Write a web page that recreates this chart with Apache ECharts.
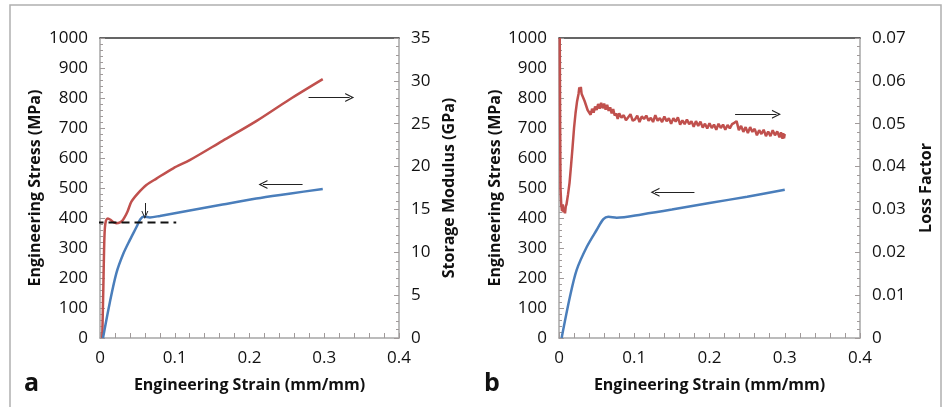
<!DOCTYPE html>
<html>
<head>
<meta charset="utf-8">
<script src="https://cdn.jsdelivr.net/npm/echarts@6/dist/echarts.min.js"></script>
<style>
  html, body { margin: 0; padding: 0; background: #fff; }
  #chart { width: 951px; height: 407px; }
</style>
</head>
<body>
<div id="chart"></div>
<script>
// panel a - stress (left axis)
var stressStrainA = [0.004, 0.013, 0.022, 0.031, 0.040, 0.049, 0.054, 0.059, 0.0667, 0.080, 0.120, 0.164, 0.209, 0.253, 0.298];
var stressA = [0, 117, 217, 280, 327, 371, 396, 405, 402, 407, 425, 445, 465, 481, 497];
// panel a - storage modulus (right axis, GPa)
var modStrain = [0.003, 0.0045, 0.0055, 0.0065, 0.008, 0.0105, 0.014, 0.018, 0.022, 0.026, 0.030, 0.033, 0.037, 0.042, 0.051, 0.062, 0.0755, 0.098, 0.120, 0.164, 0.209, 0.253, 0.298];
var modulus = [0, 6, 10.5, 12.8, 13.7, 13.95, 13.8, 13.5, 13.4, 13.45, 13.7, 14.1, 14.8, 15.9, 16.9, 17.85, 18.6, 19.8, 20.75, 23.0, 25.3, 27.8, 30.2];
// dashed yield line (MPa)
var yieldStrain = [-0.006, 0.102];
var yieldStress = [385, 385];

// panel b - stress (left axis)
var stressStrainB = [0.0035, 0.0146, 0.0235, 0.037, 0.050, 0.059, 0.0655, 0.0767, 0.110, 0.150, 0.200, 0.250, 0.300];
var stressB = [0, 138, 227, 304, 360, 396, 404, 401, 412, 428, 450, 471, 494];
// panel b - loss factor (right axis)
var lossStrain = [0.001, 0.0015, 0.002, 0.003, 0.004, 0.005, 0.006, 0.007, 0.008, 0.009, 0.010, 0.012, 0.014, 0.016, 0.018, 0.020, 0.022, 0.024, 0.026, 0.027, 0.028, 0.029, 0.030,
  0.032, 0.034, 0.036, 0.038, 0.040, 0.042, 0.044, 0.046, 0.048, 0.050, 0.052, 0.054, 0.056, 0.058, 0.060, 0.062, 0.064, 0.066, 0.068, 0.070,
  0.072, 0.074, 0.076, 0.078, 0.080, 0.083, 0.086, 0.089, 0.092, 0.095, 0.098, 0.101, 0.104, 0.107, 0.110, 0.113, 0.116, 0.119, 0.122, 0.125,
  0.128, 0.131, 0.134, 0.137, 0.140, 0.143, 0.146, 0.149, 0.152, 0.155, 0.158, 0.161, 0.164, 0.167, 0.170, 0.173, 0.176, 0.179, 0.182, 0.185,
  0.188, 0.191, 0.194, 0.197, 0.200, 0.203, 0.206, 0.209, 0.212, 0.215, 0.218, 0.221, 0.224, 0.227, 0.230, 0.233, 0.236, 0.239, 0.242, 0.245,
  0.248, 0.251, 0.254, 0.257, 0.260, 0.263, 0.266, 0.269, 0.272, 0.275, 0.278, 0.281, 0.284, 0.287, 0.290, 0.293, 0.295, 0.297, 0.298, 0.299, 0.300];
var lossFactor = [0.0700, 0.0500, 0.0350, 0.0310, 0.0296, 0.0312, 0.0293, 0.0304, 0.0291, 0.0307, 0.0312, 0.0335, 0.0362, 0.0402, 0.0445, 0.0490, 0.0525, 0.0552, 0.0570, 0.0585, 0.0574, 0.0586, 0.0570,
  0.0571, 0.0553, 0.0556, 0.0532, 0.0536, 0.0521, 0.0535, 0.0526, 0.0540, 0.0532, 0.0546, 0.0535, 0.0549, 0.0536, 0.0547, 0.0533, 0.0544, 0.0530, 0.0538, 0.0524,
  0.0534, 0.0519, 0.0524, 0.0511, 0.0524, 0.0514, 0.0520, 0.0508, 0.0515, 0.0522, 0.0507, 0.0510, 0.0519, 0.0504, 0.0517, 0.0511, 0.0519, 0.0507, 0.0514, 0.0504,
  0.0520, 0.0507, 0.0513, 0.0504, 0.0517, 0.0506, 0.0513, 0.0500, 0.0513, 0.0505, 0.0515, 0.0498, 0.0508, 0.0499, 0.0510, 0.0499, 0.0506, 0.0493, 0.0506, 0.0495,
  0.0505, 0.0491, 0.0500, 0.0489, 0.0501, 0.0490, 0.0498, 0.0486, 0.0500, 0.0490, 0.0498, 0.0486, 0.0497, 0.0489, 0.0499, 0.0502, 0.0506, 0.0485, 0.0495, 0.0481,
  0.0492, 0.0478, 0.0492, 0.0481, 0.0488, 0.0473, 0.0485, 0.0476, 0.0486, 0.0471, 0.0482, 0.0471, 0.0485, 0.0473, 0.0482, 0.0468, 0.0480, 0.0465, 0.0478, 0.0466, 0.0476];

var xTicks = [0, 0.1, 0.2, 0.3, 0.4];

function zip(xs, ys) {
  return xs.map(function (x, i) { return [x, ys[i]]; });
}

var FONT = "'Open Sans', 'Liberation Sans', sans-serif";
var RED = '#c0504d';
var BLUE = '#4a7ebb';
var AXIS_GRAY = '#a6a6a6';
var TICK_GRAY = '#a09a9a';
// open arrow head
var ARROW = 'path://M0,10 L5,0 L10,10 L8.6,10 L5,2.8 L1.4,10 Z';

function bottomAxis(grid) {
  return {
    type: 'value', gridIndex: grid, min: 0, max: 0.4, interval: 0.1,
    name: 'Engineering Strain (mm/mm)', nameLocation: 'middle', nameGap: 39,
    nameTextStyle: { fontFamily: FONT, fontSize: 16, fontWeight: 'bold', color: '#111' },
    axisLine: { show: true, onZero: false, lineStyle: { color: AXIS_GRAY, width: 1.5 } },
    axisTick: { show: true, inside: true, length: 5, lineStyle: { color: TICK_GRAY } },
    minorTick: { show: true, splitNumber: 5, length: 5, lineStyle: { color: TICK_GRAY } },
    axisLabel: { fontFamily: FONT, fontSize: 17, color: '#111', margin: 12,
      formatter: function (v) { return xTicks.indexOf(+v.toFixed(2)) >= 0 ? String(+v.toFixed(2)) : ''; } },
    splitLine: { show: false }
  };
}
function topAxis(grid) {
  return {
    type: 'value', gridIndex: grid, position: 'top', min: 0, max: 0.4,
    axisLine: { show: true, onZero: false, lineStyle: { color: '#333', width: 1.5 } },
    axisTick: { show: false }, axisLabel: { show: false }, splitLine: { show: false }
  };
}
function yAxisDef(grid, pos, max, interval, name, gap, decimals) {
  return {
    type: 'value', gridIndex: grid, position: pos, min: 0, max: max, interval: interval,
    name: name, nameLocation: 'middle', nameGap: gap, nameRotate: 90,
    nameTextStyle: { fontFamily: FONT, fontSize: 16, fontWeight: 'bold', color: '#111' },
    axisLine: { show: true, onZero: false, lineStyle: { color: AXIS_GRAY, width: 1.5 } },
    axisTick: { show: true, inside: true, length: 5, lineStyle: { color: TICK_GRAY } },
    minorTick: { show: true, splitNumber: 5, length: 3, lineStyle: { color: TICK_GRAY } },
    axisLabel: { fontFamily: FONT, fontSize: 17, color: '#111', margin: 12,
      formatter: function (v) { return v === 0 ? '0' : v.toFixed(decimals); } },
    splitLine: { show: false }
  };
}

function arrowLine(x1, x2, y1, y2, size) {
  return [{ coord: [x1, y1], symbol: 'none' }, { coord: [x2, y2], symbol: ARROW, symbolSize: size || [9, 9] }];
}

var chart = echarts.init(document.getElementById('chart'), null, { renderer: 'canvas' });
chart.setOption({
  animation: false,
  backgroundColor: '#fff',
  grid: [
    { left: 100, top: 38, width: 299, height: 300 },
    { left: 559, top: 38, width: 301, height: 300 }
  ],
  xAxis: [bottomAxis(0), topAxis(0), bottomAxis(1), topAxis(1)],
  yAxis: [
    yAxisDef(0, 'left', 1000, 100, 'Engineering Stress (MPa)', 57, 0),
    yAxisDef(0, 'right', 35, 5, 'Storage Modulus (GPa)', 42, 0),
    yAxisDef(1, 'left', 1000, 100, 'Engineering Stress (MPa)', 56, 0),
    yAxisDef(1, 'right', 0.07, 0.01, 'Loss Factor', 58, 2)
  ],
  graphic: [
    { type: 'rect', shape: { x: 10, y: 5, width: 931, height: 430 }, style: { fill: 'none', stroke: '#b0b0b0', lineWidth: 1.5 }, silent: true },
    { type: 'text', left: 24, top: 371, style: { text: 'a', font: 'bold 25px ' + FONT, fill: '#111' } },
    { type: 'text', left: 484, top: 371, style: { text: 'b', font: 'bold 25px ' + FONT, fill: '#111' } }
  ],
  series: [
    {
      name: 'Storage Modulus', type: 'line', xAxisIndex: 0, yAxisIndex: 1,
      data: zip(modStrain, modulus), showSymbol: false, smooth: 0.3,
      lineStyle: { color: RED, width: 2.5 }
    },
    {
      name: 'Stress a', type: 'line', xAxisIndex: 0, yAxisIndex: 0,
      data: zip(stressStrainA, stressA), showSymbol: false, smooth: 0.3,
      lineStyle: { color: BLUE, width: 2.5 },
      markLine: {
        silent: true, animation: false, label: { show: false },
        lineStyle: { color: '#222', width: 1, type: 'solid' },
        data: [
          arrowLine(0.279, 0.334, 802, 802),
          arrowLine(0.271, 0.218, 512, 512),
          arrowLine(0.060, 0.060, 450, 410, [7, 8])
        ]
      }
    },
    {
      name: 'Yield', type: 'line', xAxisIndex: 0, yAxisIndex: 0, clip: false,
      data: zip(yieldStrain, yieldStress), showSymbol: false,
      lineStyle: { color: '#111', width: 2, type: [8, 5] }
    },
    {
      name: 'Loss Factor', type: 'line', xAxisIndex: 2, yAxisIndex: 3,
      data: zip(lossStrain, lossFactor), showSymbol: false,
      lineStyle: { color: RED, width: 2.5 }
    },
    {
      name: 'Stress b', type: 'line', xAxisIndex: 2, yAxisIndex: 2,
      data: zip(stressStrainB, stressB), showSymbol: false, smooth: 0.3,
      lineStyle: { color: BLUE, width: 2.5 },
      markLine: {
        silent: true, animation: false, label: { show: false },
        lineStyle: { color: '#222', width: 1, type: 'solid' },
        data: [
          arrowLine(0.234, 0.289, 746, 746),
          arrowLine(0.180, 0.1276, 486, 486)
        ]
      }
    }
  ]
});
</script>
</body>
</html>
